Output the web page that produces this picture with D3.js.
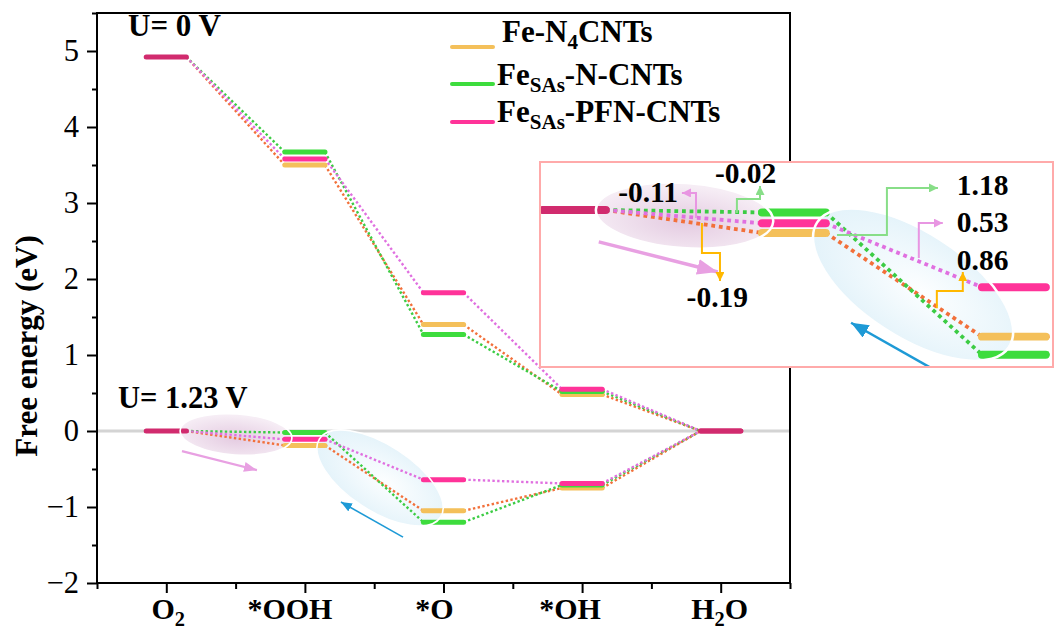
<!DOCTYPE html>
<html><head><meta charset="utf-8">
<script src="https://cdn.jsdelivr.net/npm/d3@7"></script>
<style>body{margin:0;background:#fff}svg{display:block}</style>
</head><body>
<svg id="c" width="1061" height="630"></svg>
<script>
// ---------- data ----------
const categories = ["O2", "*OOH", "*O", "*OH", "H2O"];
const seriesNames = ["Fe-N4CNTs", "FeSAs-N-CNTs", "FeSAs-PFN-CNTs"];
// U = 0 V
const feN4_U0     = [4.92, 3.50, 1.40, 0.48, 0];
const feSAsN_U0   = [4.92, 3.67, 1.27, 0.52, 0];
const feSAsPFN_U0 = [4.92, 3.58, 1.82, 0.55, 0];
// U = 1.23 V
const feN4_U123     = [0, -0.19, -1.05, -0.75, 0];
const feSAsN_U123   = [0, -0.02, -1.20, -0.71, 0];
const feSAsPFN_U123 = [0, -0.11, -0.64, -0.69, 0];
const yTicks = [-2, -1, 0, 1, 2, 3, 4, 5];
const stepLabels = ["-0.19", "-0.02", "-0.11", "0.86", "1.18", "0.53"];

// ---------- styles ----------
const barColors = ["#f4c05a", "#3ddc3d", "#ff3399"];
const sharedBarColor = "#d12b6e";
const dotColors = ["#f2703a", "#3ccc44", "#e070e0"];
const serif = "'Liberation Serif','Times New Roman',serif";

const svg = d3.select("#c");
const x = d3.scaleLinear().domain([0.5, 5.5]).range([97, 790]);
const y = d3.scaleLinear().domain([-2, 5.5]).range([583, 13]);
const HW = 0.145;

const defs = svg.append("defs");
function marker(id, color, len, wid) {
  defs.append("marker").attr("id", id).attr("markerUnits", "userSpaceOnUse")
    .attr("viewBox", `0 0 ${len} ${wid}`).attr("refX", len).attr("refY", wid / 2)
    .attr("markerWidth", len).attr("markerHeight", wid).attr("orient", "auto")
    .append("path").attr("d", `M0,0L${len},${wid / 2}L0,${wid}Z`).attr("fill", color);
}
marker("mPinkArrow", "#e8a0e2", 13, 10);
marker("mBlueArrow", "#1e9ad6", 11, 9);
marker("mCallPink", "#e896e2", 9, 9);
marker("mCallGreen", "#88de88", 9, 9);
marker("mCallOrange", "#ffb800", 9, 9);

const gPink = defs.append("radialGradient").attr("id", "gPink").attr("cx", "50%").attr("cy", "60%").attr("r", "55%");
gPink.append("stop").attr("offset", "0%").attr("stop-color", "#e4cbe1");
gPink.append("stop").attr("offset", "100%").attr("stop-color", "#f6edf5");
const gBlue = defs.append("radialGradient").attr("id", "gBlue").attr("cx", "55%").attr("cy", "50%").attr("r", "55%");
gBlue.append("stop").attr("offset", "0%").attr("stop-color", "#fcfeff");
gBlue.append("stop").attr("offset", "100%").attr("stop-color", "#e4f3fa");

// ---------- helpers ----------
function drawScene(g, seriesList) {
  const gl = g.append("g");
  seriesList.forEach((vals, s) => {
    for (let i = 0; i < vals.length - 1; i++) {
      gl.append("line")
        .attr("x1", x(i + 1 + HW)).attr("y1", y(vals[i]))
        .attr("x2", x(i + 2 - HW)).attr("y2", y(vals[i + 1]))
        .attr("stroke", dotColors[s]).attr("stroke-width", 2.4)
        .attr("stroke-dasharray", "2.4,2.4");
    }
  });
  categories.forEach((c, i) => {
    const vs = seriesList.map(v => v[i]);
    const shared = vs.every(v => v === vs[0]);
    const items = shared ? [{v: vs[0], col: sharedBarColor}] : vs.map((v, s) => ({v, col: barColors[s]}));
    items.forEach(it => {
      gl.append("line")
        .attr("x1", x(i + 1 - HW)).attr("x2", x(i + 1 + HW))
        .attr("y1", y(it.v)).attr("y2", y(it.v))
        .attr("stroke", it.col).attr("stroke-width", 5).attr("stroke-linecap", "round");
    });
  });
}

const ellipses = [
  {cx: 1.503, cy: -0.046, rx: 0.404, ry: 0.27, rot: 4, fill: "url(#gPink)"},
  {cx: 2.542, cy: -0.619, rx: 0.52, ry: 0.435, rot: 33, fill: "url(#gBlue)"}
];
const arrows = [
  {x1: 1.113, y1: -0.264, x2: 1.654, y2: -0.514, col: "#e8a0e2", w: 2.2, m: "mPinkArrow"},
  {x1: 2.708, y1: -1.397, x2: 2.260, y2: -0.935, col: "#1e9ad6", w: 1.6, m: "mBlueArrow"}
];
function ellipseAttrs(sel, e) {
  const px = x(e.cx), py = y(e.cy);
  sel.attr("cx", px).attr("cy", py)
    .attr("rx", x(e.cx + e.rx) - px).attr("ry", py - y(e.cy + e.ry))
    .attr("transform", `rotate(${e.rot},${px},${py})`);
}
function drawU123(g) {
  ellipses.forEach(e => g.append("ellipse").call(ellipseAttrs, e).attr("fill", e.fill));
  drawScene(g, [feN4_U123, feSAsN_U123, feSAsPFN_U123]);
  ellipses.forEach(e => g.append("ellipse").call(ellipseAttrs, e).attr("fill", "none").attr("stroke", "#fff").attr("stroke-width", 1.6));
  arrows.forEach(a => g.append("line")
    .attr("x1", x(a.x1)).attr("y1", y(a.y1)).attr("x2", x(a.x2)).attr("y2", y(a.y2))
    .attr("stroke", a.col).attr("stroke-width", a.w).attr("marker-end", `url(#${a.m})`));
}

function richText(g, parts, px, py, size, anchor, weight) {
  const t = g.append("text").attr("x", px).attr("y", py)
    .attr("font-family", serif).attr("font-size", size).attr("font-weight", weight || "bold")
    .attr("text-anchor", anchor || "start").attr("fill", "#000");
  let shifted = 0;
  parts.forEach(p => {
    const ts = t.append("tspan").text(p.t);
    if (p.sub) { ts.attr("font-size", size * 0.68).attr("dy", 7 - shifted); shifted = 7; }
    else if (shifted) { ts.attr("dy", -shifted); shifted = 0; }
  });
  return t;
}

// ---------- main plot ----------
svg.append("line").attr("x1", x(0.5)).attr("x2", x(5.5)).attr("y1", y(0)).attr("y2", y(0))
  .attr("stroke", "#d4d4d4").attr("stroke-width", 3);

drawScene(svg, [feN4_U0, feSAsN_U0, feSAsPFN_U0]);
drawU123(svg.append("g"));

const fmt = d => d < 0 ? "\u2212" + Math.abs(d) : String(d);
const ax = svg.append("g").attr("transform", `translate(${x(0.5)},0)`)
  .call(d3.axisLeft(y).tickValues(yTicks).tickSize(10).tickPadding(8).tickFormat(fmt));
svg.append("g").attr("transform", `translate(${x(0.5)},0)`)
  .call(d3.axisLeft(y).tickValues(d3.range(-1.5, 5.6, 1)).tickSize(5).tickFormat(""));
svg.append("g").attr("transform", `translate(0,${y(-2)})`)
  .call(d3.axisBottom(x).tickValues([1, 2, 3, 4, 5]).tickSize(10).tickFormat(""));
svg.append("g").attr("transform", `translate(0,${y(-2)})`)
  .call(d3.axisBottom(x).tickValues([0.5, 1.5, 2.5, 3.5, 4.5, 5.5]).tickSize(6).tickFormat(""));
svg.selectAll(".domain").remove();
svg.selectAll(".tick line").attr("stroke", "#000").attr("stroke-width", 2);
ax.selectAll("text").attr("font-family", serif).attr("font-size", 30.5).attr("fill", "#000");
svg.append("rect").attr("x", x(0.5)).attr("y", y(5.5)).attr("width", x(5.5) - x(0.5)).attr("height", y(-2) - y(5.5))
  .attr("fill", "none").attr("stroke", "#000").attr("stroke-width", 2);

// x category labels (with per-label horizontal offsets as in the reference)
const catParts = [
  [{t: "O"}, {t: "2", sub: true}],
  [{t: "*OOH"}],
  [{t: "*O"}],
  [{t: "*OH"}],
  [{t: "H"}, {t: "2", sub: true}, {t: "O"}]
];
const catDx = [2, -15, -9, -12, -1];
catParts.forEach((p, i) => richText(svg, p, x(i + 1) + catDx[i], 619, 30, "middle"));

svg.append("text").attr("transform", `translate(37,${(y(5.5) + y(-2)) / 2 + 48}) rotate(-90)`)
  .attr("text-anchor", "middle").attr("font-family", serif).attr("font-weight", "bold")
  .attr("font-size", 31).text("Free energy (eV)");

richText(svg, [{t: "U= 0 V"}], 128, 36, 31);
richText(svg, [{t: "U= 1.23 V"}], 118, 408, 30.5);

const legParts = [
  [{t: "Fe-N"}, {t: "4", sub: true}, {t: "CNTs"}],
  [{t: "Fe"}, {t: "SAs", sub: true}, {t: "-N-CNTs"}],
  [{t: "Fe"}, {t: "SAs", sub: true}, {t: "-PFN-CNTs"}]
];
const legLineY = [47, 84, 122], legTextX = [502, 497, 497], legTextY = [42, 85, 122];
seriesNames.forEach((n, s) => {
  svg.append("line").attr("x1", 452).attr("x2", 493).attr("y1", legLineY[s]).attr("y2", legLineY[s])
    .attr("stroke", barColors[s]).attr("stroke-width", 4).attr("stroke-linecap", "round");
  richText(svg, legParts[s], legTextX[s], legTextY[s], 31);
});

// ---------- inset ----------
const IK = 1.587, ITX = 310, ITY = -474;
const xi = c => ITX + IK * x(c), yi = v => ITY + IK * y(v);
const inset = {x: 540, y: 162, w: 513, h: 205};
svg.append("rect").attr("x", inset.x).attr("y", inset.y).attr("width", inset.w).attr("height", inset.h)
  .attr("fill", "#fff");
defs.append("clipPath").attr("id", "insetClip").append("rect")
  .attr("x", inset.x).attr("y", inset.y).attr("width", inset.w).attr("height", inset.h);
const ig = svg.append("g").attr("clip-path", "url(#insetClip)")
  .append("g").attr("transform", `translate(${ITX},${ITY}) scale(${IK})`);
drawU123(ig);

const callouts = [
  {pts: [[1.582, -0.108], [1.582, -0.357], [1.664, -0.357], [1.664, -0.589]], col: "#ffb800", m: "mCallOrange",
   label: stepLabels[0], lx: 1.652, ly: -0.805, anchor: "middle"},
  {pts: [[1.741, -0.025], [1.741, 0.091], [1.846, 0.091], [1.846, 0.199]], col: "#88de88", m: "mCallGreen",
   label: stepLabels[1], lx: 1.641, ly: 0.224, anchor: "start"},
  {pts: [[1.555, -0.066], [1.555, 0.141], [1.491, 0.141]], col: "#e896e2", m: "mCallPink",
   label: stepLabels[2], lx: 1.473, ly: 0.066, anchor: "end"},
  {pts: [[2.650, -0.814], [2.650, -0.672], [2.768, -0.672], [2.768, -0.515]], col: "#ffb800", m: "mCallOrange",
   label: stepLabels[3], lx: 2.741, ly: -0.498, anchor: "start"},
  {pts: [[2.196, -0.208], [2.423, -0.208], [2.423, 0.183], [2.655, 0.183]], col: "#88de88", m: "mCallGreen",
   label: stepLabels[4], lx: 2.741, ly: 0.125, anchor: "start"},
  {pts: [[2.568, -0.399], [2.568, -0.108], [2.677, -0.108]], col: "#e896e2", m: "mCallPink",
   label: stepLabels[5], lx: 2.741, ly: -0.183, anchor: "start"}
];
const line = d3.line().x(p => xi(p[0])).y(p => yi(p[1]));
callouts.forEach(c => {
  svg.append("path").attr("d", line(c.pts)).attr("fill", "none").attr("stroke", c.col)
    .attr("stroke-width", 2).attr("marker-end", `url(#${c.m})`);
  svg.append("text").attr("x", xi(c.lx)).attr("y", yi(c.ly)).attr("text-anchor", c.anchor)
    .attr("font-family", serif).attr("font-weight", "bold").attr("font-size", 29.5).text(c.label);
});
svg.append("rect").attr("x", inset.x).attr("y", inset.y).attr("width", inset.w).attr("height", inset.h)
  .attr("fill", "none").attr("stroke", "#ffaaaa").attr("stroke-width", 2);
</script>
</body></html>
